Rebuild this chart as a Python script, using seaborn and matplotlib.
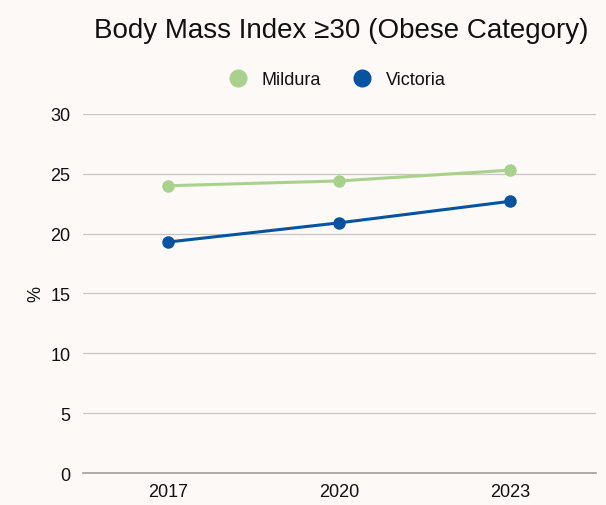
import pandas as pd
import matplotlib.pyplot as plt
import seaborn as sns
from matplotlib.lines import Line2D

years = ['2017', '2020', '2023']
mildura = [24.0, 24.4, 25.3]
victoria = [19.3, 20.9, 22.7]

df = pd.DataFrame({
    'Year': years * 2,
    'Value': mildura + victoria,
    'Area': ['Mildura'] * 3 + ['Victoria'] * 3,
})

bg = '#fcf9f6'
sns.set_style('white')
plt.rcParams['font.family'] = ['Liberation Sans', 'DejaVu Sans']
plt.rcParams['text.color'] = '#111111'
plt.rcParams['axes.labelcolor'] = '#111111'

fig, ax = plt.subplots(figsize=(6.06, 5.06), dpi=100)
fig.patch.set_facecolor(bg)
ax.set_facecolor(bg)
fig.subplots_adjust(left=0.137, right=0.983, top=0.773, bottom=0.063)

pal = {'Mildura': '#a9d18e', 'Victoria': '#0553a1'}
sns.lineplot(data=df, x='Year', y='Value', hue='Area', palette=pal,
             marker='o', markersize=9, markeredgewidth=0, linewidth=2.2,
             ax=ax, legend=False)

ax.set_ylim(0, 30)
ax.set_xlim(-0.5, 2.5)
ax.set_yticks(range(0, 31, 5))
ax.yaxis.grid(True, color='#c8c4c0', linewidth=0.9)
ax.set_axisbelow(True)
for s in ['top', 'right', 'left']:
    ax.spines[s].set_visible(False)
ax.spines['bottom'].set_color('#a09c98')
ax.spines['bottom'].set_linewidth(1.2)
ax.tick_params(axis='y', length=5, color='#c8c4c0', labelsize=13, pad=4,
               labelcolor='#111111')
ax.tick_params(axis='x', length=0, labelsize=13, pad=7, labelcolor='#111111')
ax.set_xlabel('')
ax.set_ylabel('%', fontsize=13, labelpad=4)

# legend
handles = [Line2D([], [], marker='o', linestyle='', markersize=13,
                  color=pal[k], markeredgewidth=0) for k in pal]
fig.legend(handles, list(pal), loc='center', bbox_to_anchor=(0.549, 0.84),
           ncol=2, frameon=False, fontsize=13, handletextpad=0.3,
           columnspacing=1.3)

fig.suptitle('Body Mass Index \u226530 (Obese Category)', fontsize=20,
             x=0.563, y=0.965)

fig.savefig('out.png', dpi=100, facecolor=bg)
